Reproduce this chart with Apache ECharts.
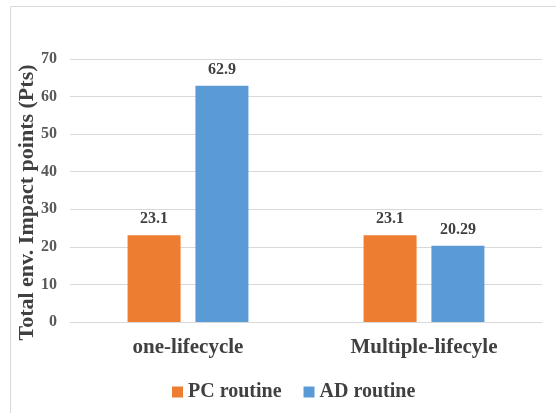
<!DOCTYPE html>
<html><head><meta charset="utf-8">
<script src="https://cdn.jsdelivr.net/npm/echarts@6/dist/echarts.min.js"></script>
<style>html,body{margin:0;padding:0;background:#fff}#c{width:556px;height:413px}</style>
</head><body><div id="c"></div>
<script>
const categories = ['one-lifecycle', 'Multiple-lifecyle'];
const pcValues = [23.1, 23.1];
const adValues = [62.9, 20.29];
const pcLabels = ['23.1', '23.1'];
const adLabels = ['62.9', '20.29'];
const seriesNames = ['PC routine', 'AD routine'];

const font = 'Liberation Serif';
const chart = echarts.init(document.getElementById('c'));
chart.setOption({
  animation: false,
  graphic: [{
    type: 'polyline', shape: { points: [[10.5, 413], [10.5, 6.5], [556, 6.5]] },
    style: { stroke: '#d9d9d9', lineWidth: 1, fill: null }
  }],
  grid: { left: 70, right: 14, top: 59, bottom: 91, containLabel: false },
  legend: {
    top: 377, left: 167, itemWidth: 11, itemHeight: 11, itemGap: 22,
    icon: 'rect',
    textStyle: { fontFamily: font, fontWeight: 'bold', fontSize: 20, color: '#404040' },
    data: seriesNames
  },
  xAxis: {
    type: 'category', data: categories,
    axisLine: { lineStyle: { color: '#d9d9d9', width: 1 } },
    axisTick: { show: false },
    axisLabel: { fontFamily: font, fontWeight: 'bold', fontSize: 21, color: '#404040', margin: 15 }
  },
  yAxis: {
    type: 'value', min: 0, max: 70, interval: 10,
    name: 'Total env. Impact points (Pts)', nameLocation: 'middle', nameGap: 32, nameMoveOverlap: false,
    nameTextStyle: { fontFamily: font, fontWeight: 'bold', fontSize: 22, color: '#404040', padding: [0, 24, 0, 0] },
    axisLine: { show: false }, axisTick: { show: false },
    splitLine: { lineStyle: { color: '#d9d9d9', width: 1 } },
    axisLabel: { fontFamily: font, fontWeight: 'bold', fontSize: 16, color: '#595959', margin: 13 }
  },
  series: [
    {
      name: seriesNames[0], type: 'bar', data: pcValues, barWidth: 53, barGap: '28%',
      itemStyle: { color: '#ED7D31' },
      label: { show: true, position: 'top', distance: 8, fontFamily: font, fontWeight: 'bold', fontSize: 16, color: '#404040',
        formatter: p => pcLabels[p.dataIndex] }
    },
    {
      name: seriesNames[1], type: 'bar', data: adValues, barWidth: 53,
      itemStyle: { color: '#5B9BD5' },
      label: { show: true, position: 'top', distance: 8, fontFamily: font, fontWeight: 'bold', fontSize: 16, color: '#404040',
        formatter: p => adLabels[p.dataIndex] }
    }
  ]
});
</script></body></html>
